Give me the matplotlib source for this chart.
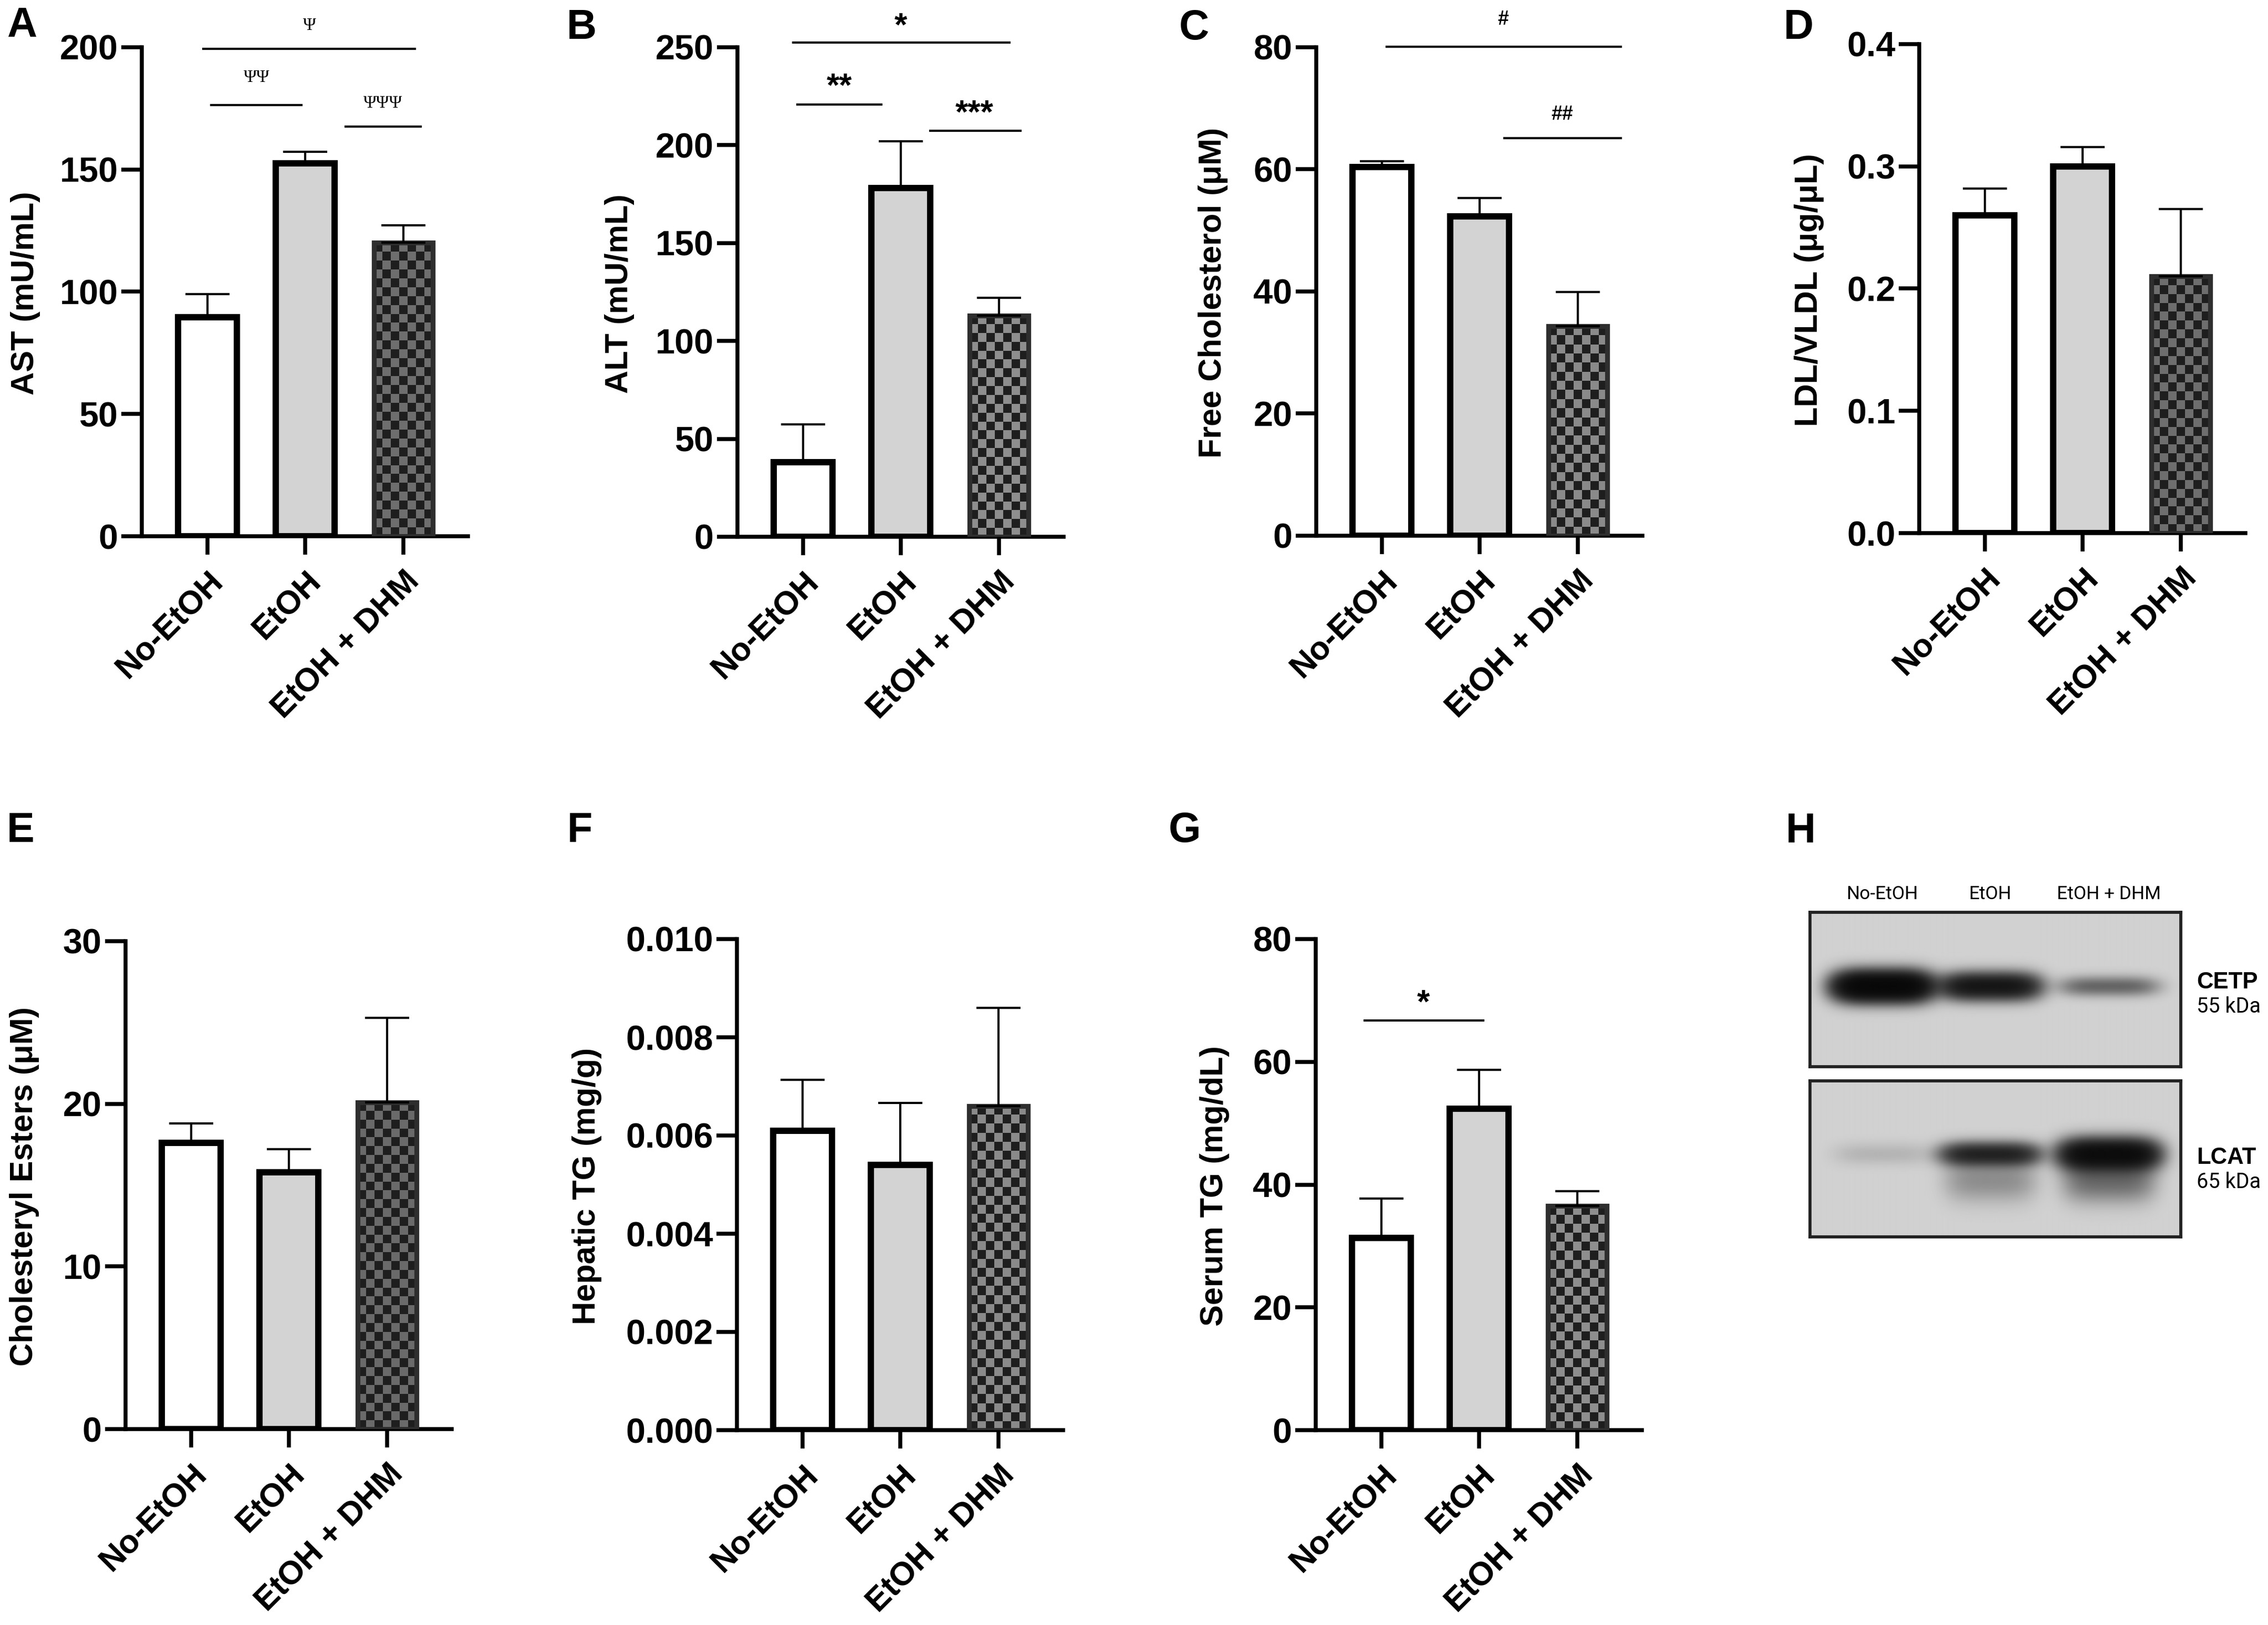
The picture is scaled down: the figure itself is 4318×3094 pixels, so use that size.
import numpy as np
import matplotlib
matplotlib.use('Agg')
import matplotlib.pyplot as plt
from matplotlib.colors import ListedColormap

W, H = 4318, 3094
my_dpi = 300

groups = ['No-EtOH', 'EtOH', 'EtOH + DHM']

ast_mean = [89.5, 152.5, 120.0]
ast_sem = [9.5, 4.7, 7.2]
alt_mean = [38.0, 178.0, 113.0]
alt_sem = [19.5, 24.0, 9.0]
fc_mean = [60.4, 52.3, 34.3]
fc_sem = [0.9, 3.0, 5.6]
ldl_mean = [0.26, 0.30, 0.21]
ldl_sem = [0.022, 0.016, 0.055]
ce_mean = [17.6, 15.8, 20.1]
ce_sem = [1.2, 1.4, 5.2]
htg_mean = [0.0061, 0.0054, 0.0066]
htg_sem = [0.00103, 0.00126, 0.0020]
stg_mean = [31.3, 52.4, 36.5]
stg_sem = [6.4, 6.3, 2.4]

# significance: (x1, x2, y, label, text x, text y)
sig_A = [(-0.04, 2.12, 199.4, 'Ψ', 1.04, 208.8),
         (0.04, 0.96, 176.3, 'ΨΨ', 0.5, 187.7),
         (1.41, 2.18, 167.6, 'ΨΨΨ', 1.79, 177.0)]
sig_B = [(-0.10, 2.11, 252.3, '*', 1.0, 260.5),
         (-0.06, 0.80, 220.7, '**', 0.37, 229.5),
         (1.30, 2.22, 207.3, '***', 1.75, 216.0)]
sig_C = [(0.05, 2.44, 80.1, '#', 1.24, 84.6),
         (1.25, 2.44, 65.1, '##', 1.84, 69.0)]
sig_G = [(-0.17, 1.04, 66.7, '*', 0.43, 69.5)]

# western blot band intensities (lanes No-EtOH, EtOH, EtOH + DHM)
cetp_band = [1.6, 1.0, 0.30]
lcat_band = [0.06, 0.75, 1.30]
lcat_smear = [0.0, 0.16, 0.28]

plt.rcParams['font.family'] = ['Liberation Sans', 'DejaVu Sans']
plt.rcParams['font.weight'] = 'bold'

fig = plt.figure(figsize=(W / my_dpi, H / my_dpi), dpi=my_dpi)
fig.patch.set_facecolor('white')

XL = (-0.67, 2.66)
AXW = 621


def bar_panel(left, top, bottom, means, sems, yticks, fmt, ylabel, lab_x, light, sig=None):
    ax = fig.add_axes([left / W, 1 - bottom / H, AXW / W, (bottom - top) / H])
    x = np.arange(3)
    ymax = yticks[-1]
    ax.bar(x[:2], means[:2], width=0.6, color=['white', '#d3d3d3'],
           edgecolor='black', linewidth=2.9, zorder=2)
    ax.bar(x[2], means[2], width=0.6, color='#1e1e1e', edgecolor='#2e2e2e',
           linewidth=2.2, zorder=2)
    # checkered fill
    px_x = AXW / (XL[1] - XL[0])
    px_y = (bottom - top) / ymax
    sq = 17
    nx = max(1, int(round(0.6 * px_x / sq)))
    ny = max(1, int(round(means[2] * px_y / sq)))
    board = np.add.outer(np.arange(ny), np.arange(nx)) % 2
    ax.imshow(board, extent=(2 - 0.3, 2 + 0.3, 0, means[2]), origin='lower',
              cmap=ListedColormap(['#1e1e1e', light]), aspect='auto',
              interpolation='nearest', zorder=2.5)
    ax.bar(x[2], means[2], width=0.6, fill=False, edgecolor='#2e2e2e',
           linewidth=2.2, zorder=3)
    ax.errorbar(x, means, yerr=[np.zeros(3), sems], fmt='none', ecolor='black',
                elinewidth=1.0, capsize=10, capthick=1.0, zorder=4)
    ax.set_xlim(*XL)
    ax.set_ylim(0, ymax)
    ax.set_yticks(yticks)
    ax.set_yticklabels([fmt.format(v) for v in yticks])
    ax.set_xticks(x)
    ax.set_xticklabels(groups)
    for s in ['top', 'right']:
        ax.spines[s].set_visible(False)
    for s in ['left', 'bottom']:
        ax.spines[s].set_linewidth(1.8)
    ax.tick_params(axis='y', length=9.4, width=1.8, pad=1.5, labelsize=16)
    ax.tick_params(axis='x', length=8.4, width=1.8, pad=5, labelsize=15)
    plt.setp(ax.get_xticklabels(), rotation=45, ha='right', va='top',
             rotation_mode='anchor')
    ax.text(lab_x, 0.497, ylabel, rotation=90, ha='center', va='center',
            transform=ax.transAxes, fontsize=14.7, fontweight='bold')
    if sig:
        for x1, x2, yy, lab, tx, ty in sig:
            ax.plot([x1, x2], [yy, yy], color='black', lw=1.0, clip_on=False)
            if 'Ψ' in lab:
                ax.text(tx, ty, lab, ha='center', va='center', fontsize=8,
                        family='Liberation Serif', fontweight='normal')
            elif '#' in lab:
                ax.text(tx, ty, lab, ha='center', va='center', fontsize=9,
                        fontweight='bold')
            else:
                ax.text(tx, ty, lab, ha='center', va='center', fontsize=15,
                        fontweight='bold')
    return ax


bar_panel(270, 90, 1021, ast_mean, ast_sem, [0, 50, 100, 150, 200], '{:g}',
          'AST (mU/mL)', -0.356, '#6e6e6e', sig_A)
bar_panel(1404, 90, 1022, alt_mean, alt_sem, [0, 50, 100, 150, 200, 250], '{:g}',
          'ALT (mU/mL)', -0.362, '#8e8e8e', sig_B)
bar_panel(2506, 90, 1020, fc_mean, fc_sem, [0, 20, 40, 60, 80], '{:g}',
          'Free Cholesterol (μM)', -0.316, '#8a8a8a', sig_C)
bar_panel(3654, 84, 1015, ldl_mean, ldl_sem, [0, 0.1, 0.2, 0.3, 0.4], '{:.1f}',
          'LDL/VLDL (μg/μL)', -0.337, '#6e6e6e')
bar_panel(239, 1792, 2721, ce_mean, ce_sem, [0, 10, 20, 30], '{:g}',
          'Cholesteryl Esters (μM)', -0.31, '#6a6a6a')
bar_panel(1403, 1788, 2723, htg_mean, htg_sem,
          [0, 0.002, 0.004, 0.006, 0.008, 0.010], '{:.3f}',
          'Hepatic TG (mg/g)', -0.46, '#8a8a8a')
bar_panel(2505, 1788, 2723, stg_mean, stg_sem, [0, 20, 40, 60, 80], '{:g}',
          'Serum TG (mg/dL)', -0.31, '#8e8e8e', sig_G)

# panel letters
for lab, (lx, ly) in {'A': (13, 70), 'B': (1079, 74), 'C': (2245, 75),
                      'D': (3396, 74), 'E': (13, 1603), 'F': (1080, 1603),
                      'G': (2225, 1603), 'H': (3400, 1604)}.items():
    fig.text(lx / W, 1 - ly / H, lab, fontsize=19, fontweight='bold',
             va='baseline', ha='left')

# western blot (H)
lane_x = [0.195, 0.486, 0.806]


def blot(top, bottom, amps, sy, yc, smear=None):
    ax = fig.add_axes([3446 / W, 1 - bottom / H, 706 / W, (bottom - top) / H])
    nr = int(bottom - top)
    X, Y = np.meshgrid(np.linspace(0, 1, 706), np.linspace(0, 1, nr))
    dark = np.zeros_like(X)
    for c, a, s in zip(lane_x, amps, sy):
        dark += a * np.exp(-((X - c) / 0.13) ** 4) * np.exp(-((Y - yc) / s) ** 2)
    if smear is not None:
        for c, a in zip(lane_x, smear):
            dark += a * np.exp(-((X - c) / 0.12) ** 4) * np.exp(-((Y - 0.64) / 0.13) ** 2)
    val = 1 - np.exp(-2.5 * dark)
    img = 0.82 - 0.80 * val
    ax.imshow(img, cmap='gray', vmin=0, vmax=1, extent=(0, 1, 1, 0),
              aspect='auto', interpolation='bilinear')
    ax.set_xticks([])
    ax.set_yticks([])
    for s in ax.spines.values():
        s.set_linewidth(1.4)
        s.set_color('#222222')
    return ax


blot(1737, 2031, cetp_band, [0.09, 0.08, 0.06], 0.48)
blot(2058, 2355, lcat_band, [0.07, 0.07, 0.09], 0.47, lcat_smear)

for c, g in zip(lane_x, groups):
    fig.text((3446 + c * 706) / W, 1 - 1702 / H, g, ha='center', va='center',
             fontsize=8.5, fontweight='normal', family='Roboto')

fig.text(4182 / W, 1 - 1871 / H, 'CETP', ha='left', va='center', fontsize=10.5,
         fontweight='bold')
fig.text(4182 / W, 1 - 1917 / H, '55 kDa', ha='left', va='center', fontsize=9.5,
         fontweight='normal', family='Roboto')
fig.text(4182 / W, 1 - 2204 / H, 'LCAT', ha='left', va='center', fontsize=10.5,
         fontweight='bold')
fig.text(4182 / W, 1 - 2251 / H, '65 kDa', ha='left', va='center', fontsize=9.5,
         fontweight='normal', family='Roboto')

plt.savefig('out.png', dpi=my_dpi)
